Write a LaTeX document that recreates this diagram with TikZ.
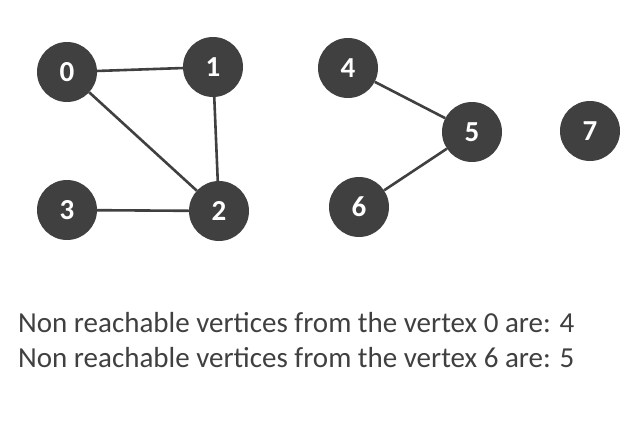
\documentclass[tikz,border=0pt]{standalone}
\usepackage{fontspec}
\setmainfont{Carlito}
\definecolor{vtx}{HTML}{404040}
\begin{document}
\begin{tikzpicture}[x=1pt,y=-1pt,
  vert/.style={circle,fill=vtx,minimum size=60pt,inner sep=0pt,text=white,font=\fontsize{29}{32}\selectfont\bfseries},
  edge/.style={draw=vtx,line width=2.6pt},
  caption/.style={anchor=base west,inner sep=0pt,text=vtx,font=\fontsize{29}{32}\selectfont}]
\useasboundingbox (0,0) rectangle (639,439);
\fill[white] (0,0) rectangle (639,439);
\node[vert] (n0) at (67,72) {0};
\node[vert] (n1) at (213,67) {1};
\node[vert] (n2) at (219,211) {2};
\node[vert] (n3) at (67,210) {3};
\node[vert] (n4) at (348,68) {4};
\node[vert] (n5) at (472,132) {5};
\node[vert] (n6) at (359,207) {6};
\node[vert] (n7) at (590,131) {7};
\path[edge] (n0) -- (n1);
\path[edge] (n0) -- (n2);
\path[edge] (n1) -- (n2);
\path[edge] (n3) -- (n2);
\path[edge] (n4) -- (n5);
\path[edge] (n6) -- (n5);
\node[caption] (t1) at (18,332) {Non reachable vertices from the vertex 0 are: 4};
\node[caption] (t2) at (18,367) {Non reachable vertices from the vertex 6 are: 5};
\end{tikzpicture}
\end{document}
